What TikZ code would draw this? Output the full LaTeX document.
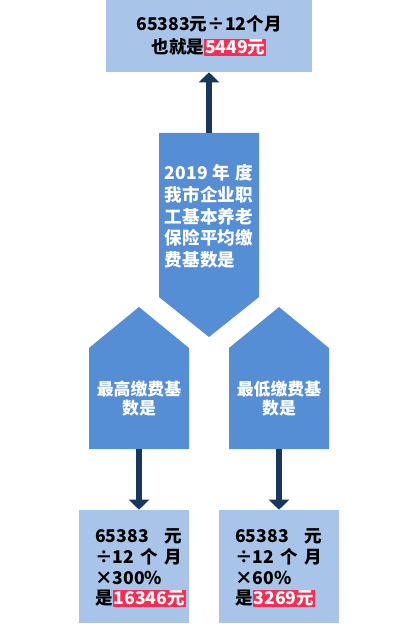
\documentclass[tikz,border=0pt]{standalone}
\usepackage{fontspec}
\newfontfamily\cjk{Noto Sans CJK SC}
\usetikzlibrary{arrows.meta}
\definecolor{paleblue}{HTML}{A9C4E9}
\definecolor{midblue}{HTML}{558ED5}
\definecolor{navy}{HTML}{17375E}
\definecolor{hotred}{HTML}{FF2A4F}
\newcommand{\hotnum}[1]{{\setlength{\fboxsep}{0.6pt}\colorbox{hotred}{\color{white}#1}}}

\begin{document}
\begin{tikzpicture}[x=0.025cm,y=-0.025cm,
  palebox/.style={fill=paleblue,inner sep=0pt},
  whitetext/.style={text=white,inner sep=0pt},
  feed/.style={draw=navy,line width=0.15cm,-{Triangle[width=0.5cm,length=0.25cm]}}]
\useasboundingbox (0,0) rectangle (408,630);
% result on top
\node[palebox,minimum width=5.15cm,minimum height=1.8cm,align=center,
  font=\cjk\bfseries\fontsize{12.5}{16.4}\selectfont] (total) at (209,36)
  {65383元÷12个月\\也就是\hotnum{5449元}};
% average base, pointing down
\fill[midblue] (159,133) -- (259,133) -- (259,297) -- (209,337) -- (159,297) -- cycle;
\coordinate (avgtop) at (209,133);
\node[whitetext,text width=2.2cm,align=left,
  font=\cjk\bfseries\fontsize{12.5}{15.4}\selectfont] (avg) at (209,216.5)
  {2019\hfill 年\hfill 度\\我市企业职\\工基本养老\\保险平均缴\\费基数是};
\draw[feed] (avgtop) -- (total.south);
% highest and lowest base
\fill[midblue] (89,449) -- (89,348) -- (139,307) -- (189,348) -- (189,449) -- cycle;
\fill[midblue] (229,449) -- (229,348) -- (279,307) -- (329,348) -- (329,449) -- cycle;
\node[whitetext,align=center,font=\cjk\bfseries\fontsize{12}{13.6}\selectfont]
  (high) at (139,398.5) {最高缴费基\\数是};
\node[whitetext,align=center,font=\cjk\bfseries\fontsize{12}{13.6}\selectfont]
  (low) at (279,398.5) {最低缴费基\\数是};
\coordinate (highfoot) at (139,449);
\coordinate (lowfoot) at (279,449);
% results at the bottom
\node[palebox,minimum width=2.75cm,minimum height=2.825cm] (highbox) at (134,566.5) {};
\node[palebox,minimum width=3cm,minimum height=2.825cm] (lowbox) at (279,566.5) {};
\node[inner sep=0pt,text width=2.175cm,anchor=west,align=left,
  font=\cjk\bfseries\fontsize{12.5}{14.7}\selectfont] (highcalc) at (95,568)
  {65383\hfill 元\\÷12\hfill 个\hfill 月\\×300\%\\是\hotnum{16346元}};
\node[inner sep=0pt,text width=2.175cm,anchor=west,align=left,
  font=\cjk\bfseries\fontsize{12.5}{14.7}\selectfont] (lowcalc) at (235,568)
  {65383\hfill 元\\÷12\hfill 个\hfill 月\\×60\%\\是\hotnum{3269元}};
\draw[feed] (highfoot) -- (highfoot |- highbox.north);
\draw[feed] (lowfoot) -- (lowfoot |- lowbox.north);
\end{tikzpicture}
\end{document}
